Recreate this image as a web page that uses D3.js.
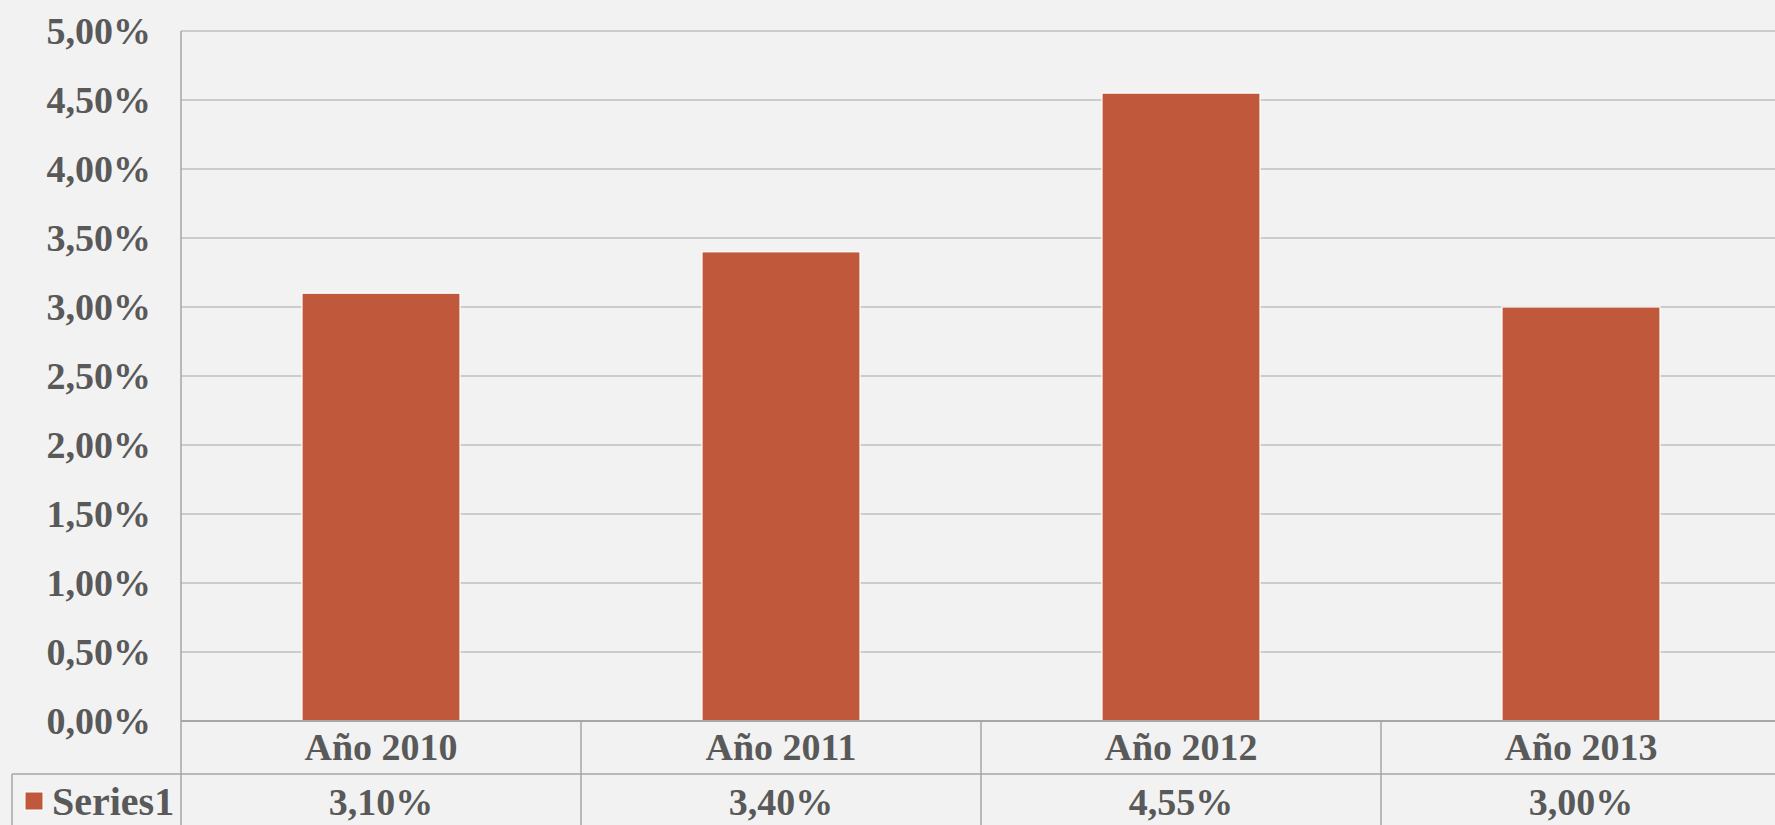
<!DOCTYPE html>
<html>
<head>
<meta charset="utf-8">
<script src="https://cdn.jsdelivr.net/npm/d3@7/dist/d3.min.js"></script>
<style>
  html, body { margin: 0; padding: 0; background: #f2f2f2; overflow: hidden; }
  svg { display: block; }
  text { font-family: "Liberation Serif", "DejaVu Serif", serif; font-weight: bold; fill: #595959; }
</style>
</head>
<body>
<svg id="chart" width="1775" height="825"></svg>
<script>
// Chart data
const categories = ["Año 2010", "Año 2011", "Año 2012", "Año 2013"];
const seriesName = "Series1";
const values = [0.031, 0.034, 0.0455, 0.030];
const yTicks = [0, 0.005, 0.01, 0.015, 0.02, 0.025, 0.03, 0.035, 0.04, 0.045, 0.05];

const W = 1775, H = 825;
const plotLeft = 181, plotRight = 1781, plotTop = 31, plotBottom = 721;
const catRowBottom = 774, tableLeft = 12;
const barColor = "#c0593b";
const gridColor = "#bfbfbf";
const tableColor = "#a6a6a6";
const fontSize = 38;

const fmt = v => (v * 100).toFixed(2).replace(".", ",") + "%";

const svg = d3.select("#chart");

const x = d3.scaleBand().domain(categories).range([plotLeft, plotRight]).paddingInner(0).paddingOuter(0);
const xBar = d3.scaleBand().domain(categories).range([plotLeft, plotRight]).paddingInner(0.605).paddingOuter(0.3025);
const y = d3.scaleLinear().domain([0, 0.05]).range([plotBottom, plotTop]);

// Horizontal gridlines
svg.append("g")
  .selectAll("line")
  .data(yTicks.filter(t => t > 0))
  .join("line")
  .attr("x1", plotLeft).attr("x2", plotRight)
  .attr("y1", d => y(d)).attr("y2", d => y(d))
  .attr("stroke", gridColor).attr("stroke-width", 1.5);

// Y axis labels
const yAxis = d3.axisLeft(y).tickValues(yTicks).tickFormat(fmt).tickSize(0).tickPadding(0);
const gy = svg.append("g").attr("transform", `translate(${plotLeft - 30},0)`).call(yAxis);
gy.select(".domain").remove();
gy.selectAll("text")
  .attr("font-size", fontSize)
  .style("font-family", '"Liberation Serif", "DejaVu Serif", serif')
  .style("font-weight", "bold")
  .attr("fill", "#595959");

// Bars
svg.append("g")
  .selectAll("rect")
  .data(categories)
  .join("rect")
  .attr("x", d => xBar(d))
  .attr("width", xBar.bandwidth())
  .attr("y", (d, i) => y(values[i]))
  .attr("height", (d, i) => y(0) - y(values[i]))
  .attr("fill", barColor)
  .attr("stroke", "#ffffff")
  .attr("stroke-width", 1.2);

// Data table: lines
const tbl = svg.append("g").attr("stroke", tableColor).attr("stroke-width", 1.5);
// axis baseline
tbl.append("line").attr("x1", plotLeft).attr("x2", plotRight).attr("y1", plotBottom).attr("y2", plotBottom).attr("stroke-width", 2);
// left vertical of plot
tbl.append("line").attr("x1", plotLeft).attr("x2", plotLeft).attr("y1", plotTop).attr("y2", H);
// row separator between categories and values
tbl.append("line").attr("x1", tableLeft).attr("x2", plotRight).attr("y1", catRowBottom).attr("y2", catRowBottom);
// legend cell left border
tbl.append("line").attr("x1", tableLeft).attr("x2", tableLeft).attr("y1", catRowBottom).attr("y2", H);
// category column separators
tbl.selectAll("line.col")
  .data(categories.slice(1))
  .join("line")
  .attr("class", "col")
  .attr("x1", d => x(d)).attr("x2", d => x(d))
  .attr("y1", plotBottom).attr("y2", H);

// Category labels
svg.append("g")
  .selectAll("text")
  .data(categories)
  .join("text")
  .attr("x", d => x(d) + x.bandwidth() / 2)
  .attr("y", 760)
  .attr("text-anchor", "middle")
  .attr("font-size", fontSize)
  .text(d => d);

// Value row
svg.append("g")
  .selectAll("text")
  .data(categories)
  .join("text")
  .attr("x", d => x(d) + x.bandwidth() / 2)
  .attr("y", 815)
  .attr("text-anchor", "middle")
  .attr("font-size", fontSize)
  .text((d, i) => fmt(values[i]));

// Legend key
svg.append("rect")
  .attr("x", 25).attr("y", 792).attr("width", 18).attr("height", 18)
  .attr("fill", barColor).attr("stroke", "#ffffff").attr("stroke-width", 1);
svg.append("text")
  .attr("x", 52).attr("y", 815)
  .attr("font-size", 40)
  .text(seriesName);
</script>
</body>
</html>
